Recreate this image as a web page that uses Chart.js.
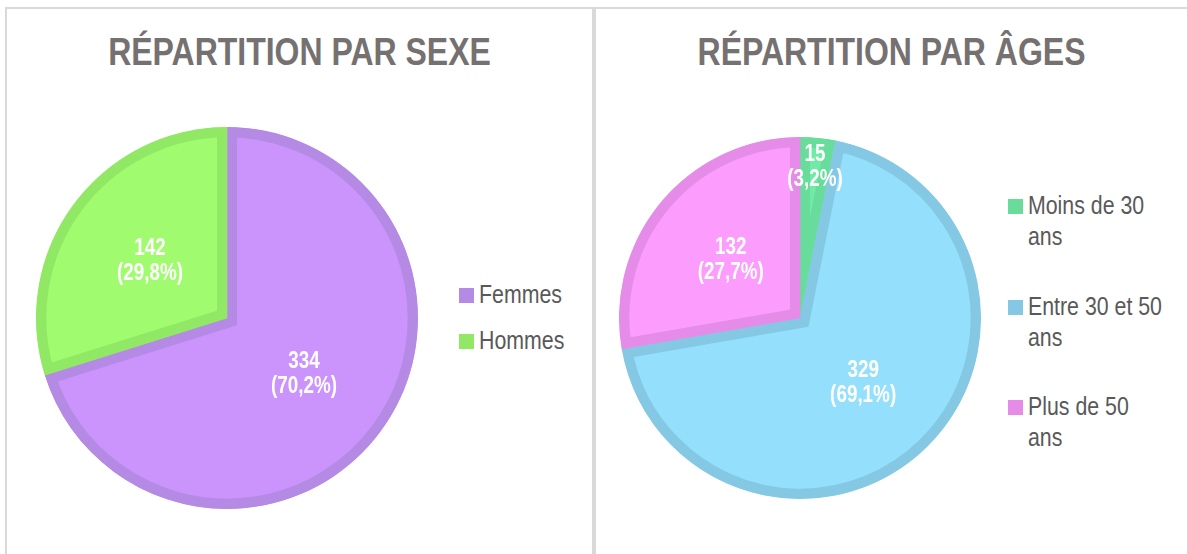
<!DOCTYPE html>
<html lang="fr">
<head>
  <meta charset="UTF-8">
  <title>Répartition par sexe et par âges</title>
  <script src="https://cdn.jsdelivr.net/npm/chart.js"></script>
  <style>
    body { margin: 0; background: #fff; font-family: "Liberation Sans", Arial, sans-serif; }
    .frame { position: absolute; left: 5px; top: 7px; width: 1182px; height: 547px;
             border-top: 2px solid #d9d9d9; border-left: 2px solid #d9d9d9; }
    .divider { position: absolute; left: 592px; top: 7px; width: 4px; height: 547px; background: #d9d9d9; }
    .title { position: absolute; top: 32px; font-size: 39px; line-height: 39px; font-weight: bold;
             color: #767171; text-align: center; white-space: nowrap;
             transform: scaleX(0.82); transform-origin: center; }
    canvas { position: absolute; }
    .legend { position: absolute; color: #595959; font-size: 26px; line-height: 31px; }
    .legend .item { position: absolute; left: 0; display: flex; align-items: flex-start; white-space: nowrap; }
    .legend .box { width: 15px; height: 15px; margin-top: 9px; margin-right: 5px; flex: none; }
    .legend .txt { display: inline-block; transform: scaleX(0.82); transform-origin: left; }
  </style>
</head>
<body>
  <div class="frame"></div>
  <div class="divider"></div>

  <div class="title" style="left:7px;width:585px">RÉPARTITION PAR SEXE</div>
  <canvas id="sexe" width="382" height="382" style="left:36px;top:127px"></canvas>
  <div class="legend" id="legend-sexe" style="left:459px;top:0"></div>

  <div class="title" style="left:596px;width:591px">RÉPARTITION PAR ÂGES</div>
  <canvas id="ages" width="362" height="362" style="left:619px;top:137px"></canvas>
  <div class="legend" id="legend-ages" style="left:1008px;top:0"></div>

<script>
  // données
  const sexeLabels = ['Femmes', 'Hommes'];
  const sexeValues = [334, 142];
  const sexeFill = ['#ca94fc', '#a0fc6e'];
  const sexeBorder = ['#b48ae4', '#90e864'];

  const agesLabels = [['Moins de 30', 'ans'], ['Entre 30 et 50', 'ans'], ['Plus de 50', 'ans']];
  const agesValues = [15, 329, 132];
  const agesFill = ['#70eaa4', '#94e0fc', '#fc9cfc'];
  const agesBorder = ['#68dc9a', '#84c8e4', '#e48ce8'];

  // étiquettes "valeur (pourcentage)" dans les secteurs
  const sliceLabels = {
    id: 'sliceLabels',
    afterDatasetsDraw(chart) {
      const ctx = chart.ctx;
      const values = chart.data.datasets[0].data;
      const total = values.reduce((a, b) => a + b, 0);
      chart.getDatasetMeta(0).data.forEach((arc, i) => {
        const p = arc.getProps(['x', 'y', 'startAngle', 'endAngle', 'outerRadius'], true);
        const share = values[i] / total;
        const mid = (p.startAngle + p.endAngle) / 2;
        const r = p.outerRadius * (share < 0.05 ? 0.84 : 0.5);
        const pct = '(' + (share * 100).toFixed(1).replace('.', ',') + '%)';
        ctx.save();
        ctx.translate(p.x + Math.cos(mid) * r, p.y + Math.sin(mid) * r);
        ctx.scale(0.82, 1); // police étroite
        ctx.fillStyle = '#ffffff';
        ctx.font = 'bold 23px "Liberation Sans", Arial, sans-serif';
        ctx.textAlign = 'center';
        ctx.textBaseline = 'middle';
        ctx.fillText(String(values[i]), 0, -12.5);
        ctx.fillText(pct, 0, 12.5);
        ctx.restore();
      });
    }
  };

  function pie(id, labels, values, fill, border) {
    return new Chart(document.getElementById(id), {
      type: 'pie',
      data: {
        labels: labels,
        datasets: [{
          data: values,
          backgroundColor: fill,
          borderColor: border,
          borderWidth: 10,
          borderAlign: 'inner',
          borderJoinStyle: 'miter'
        }]
      },
      options: {
        responsive: false,
        animation: false,
        layout: { padding: 0 },
        plugins: { legend: { display: false }, tooltip: { enabled: false } }
      },
      plugins: [sliceLabels]
    });
  }

  function legend(id, labels, colors, top, step) {
    const el = document.getElementById(id);
    labels.forEach((lab, i) => {
      const item = document.createElement('div');
      item.className = 'item';
      item.style.top = (top + i * step) + 'px';
      const box = document.createElement('span');
      box.className = 'box';
      box.style.background = colors[i];
      const txt = document.createElement('span');
      txt.className = 'txt';
      txt.innerHTML = [].concat(lab).join('<br>');
      item.appendChild(box);
      item.appendChild(txt);
      el.appendChild(item);
    });
  }

  pie('sexe', sexeLabels, sexeValues, sexeFill, sexeBorder);
  pie('ages', agesLabels, agesValues, agesFill, agesBorder);
  legend('legend-sexe', sexeLabels, sexeBorder, 278.5, 46);
  legend('legend-ages', agesLabels, agesBorder, 190, 100.5);
</script>
</body>
</html>
